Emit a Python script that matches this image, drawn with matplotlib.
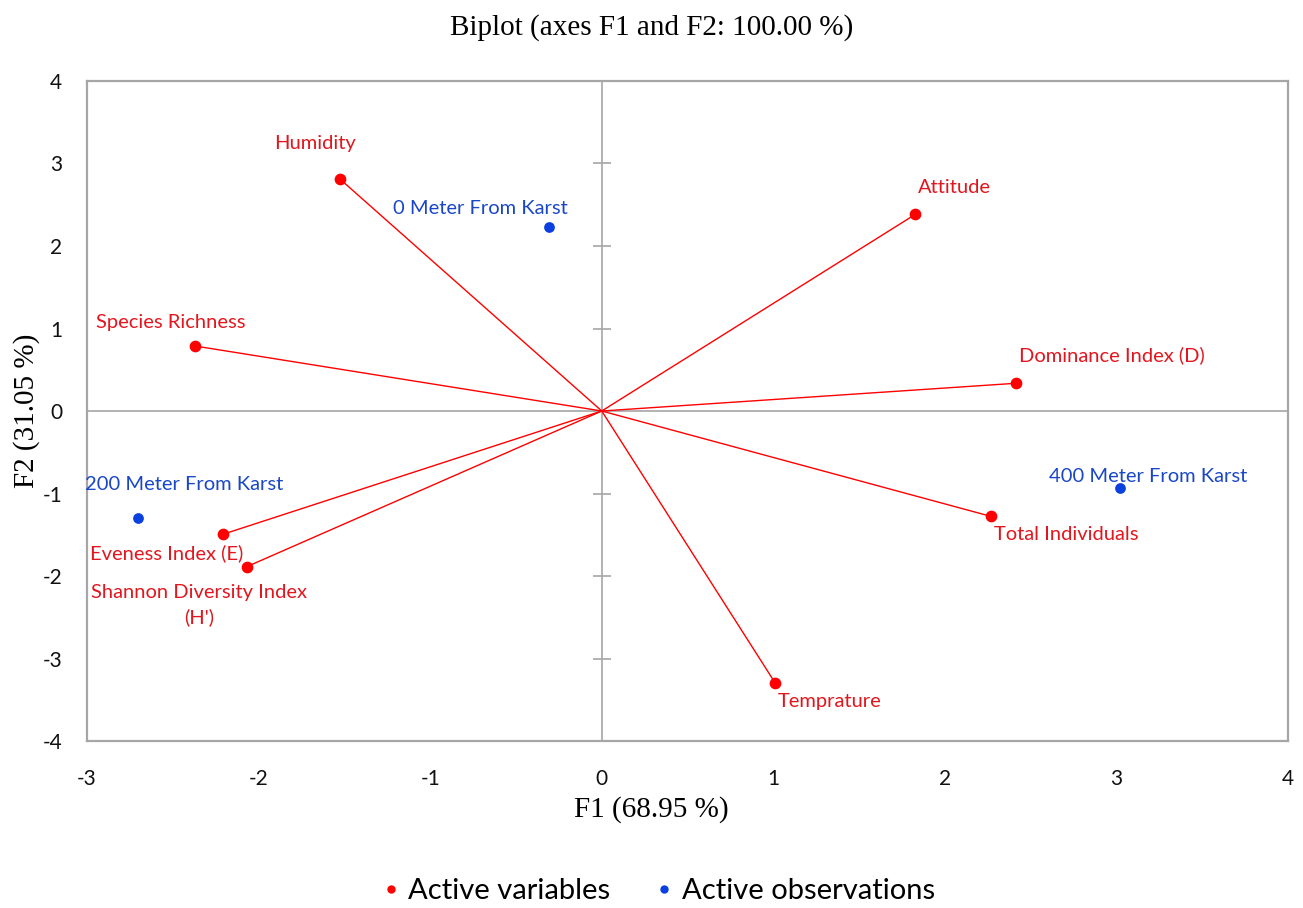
import matplotlib
matplotlib.use("Agg")
import matplotlib.pyplot as plt
from matplotlib.lines import Line2D

plt.rcParams["axes.unicode_minus"] = False

# ---- data ----
var_names = ["Humidity", "Attitude", "Species Richness", "Dominance Index (D)",
             "Eveness Index (E)", "Shannon Diversity Index\n(H')", "Total Individuals", "Temprature"]
var_f1 = [-1.525, 1.828, -2.371, 2.413, -2.209, -2.069, 2.268, 1.011]
var_f2 = [2.81, 2.384, 0.788, 0.336, -1.495, -1.887, -1.277, -3.297]
# label anchor positions (data units)
var_lab_x = [-1.67, 2.054, -2.515, 2.975, -2.538, -2.345, 2.707, 1.331]
var_lab_y = [3.24, 2.715, 1.07, 0.679, -1.725, -2.35, -1.495, -3.524]

obs_names = ["0 Meter From Karst", "200 Meter From Karst", "400 Meter From Karst"]
obs_f1 = [-0.308, -2.704, 3.019]
obs_f2 = [2.23, -1.293, -0.93]
obs_lab_x = [-0.708, -2.433, 3.185]
obs_lab_y = [2.46, -0.889, -0.788]

xticks = [-3, -2, -1, 0, 1, 2, 3, 4]
yticks = [-4, -3, -2, -1, 0, 1, 2, 3, 4]

title = "Biplot (axes F1 and F2: 100.00 %)"
xlabel = "F1 (68.95 %)"
ylabel = "F2 (31.05 %)"

RED = "#FF0000"
RED_TXT = "#E2161E"
BLUE = "#0A3FE0"
BLUE_TXT = "#1A47C8"
GRAY = "#A6A6A6"
SANS = ["Lato", "DejaVu Sans"]
SERIF = ["Liberation Serif", "DejaVu Serif"]

fig = plt.figure(figsize=(13.03, 9.08), dpi=100)
ax = fig.add_axes([0.0668, 0.1839, 0.9217, 0.7269])
ax.set_xlim(-3, 4)
ax.set_ylim(-4, 4)

for s in ax.spines.values():
    s.set_color(GRAY)
    s.set_linewidth(1.6)

ax.axhline(0, color=GRAY, lw=1.2, zorder=1)
ax.axvline(0, color=GRAY, lw=1.2, zorder=1)
# tick marks crossing the vertical zero axis
ax.plot([0] * len(yticks), yticks, linestyle="none", marker="_", markersize=13,
        markeredgewidth=1.2, color=GRAY, zorder=1, clip_on=False)

ax.set_xticks(xticks)
ax.set_yticks(yticks)
ax.tick_params(axis="both", length=0, labelsize=15, colors="#111111")
ax.tick_params(axis="x", pad=20)
ax.tick_params(axis="y", pad=18)
for lbl in ax.get_xticklabels() + ax.get_yticklabels():
    lbl.set_family(SANS)

# vectors
for x, y in zip(var_f1, var_f2):
    ax.plot([0, x], [0, y], color=RED, lw=1.0, zorder=2)
ax.scatter(var_f1, var_f2, s=55, color=RED, zorder=3, label="Active variables")
ax.scatter(obs_f1, obs_f2, s=45, color=BLUE, zorder=3, label="Active observations")

for n, x, y in zip(var_names, var_lab_x, var_lab_y):
    ax.text(x, y, n, color=RED_TXT, fontsize=14.5, family=SANS, ha="center", va="center",
            linespacing=1.5)
for n, x, y in zip(obs_names, obs_lab_x, obs_lab_y):
    ax.text(x, y, n, color=BLUE_TXT, fontsize=14.5, family=SANS, ha="center", va="center")

fig.text(0.5, 0.970, title, ha="center", va="center", fontsize=21, family=SERIF)
fig.text(0.5, 0.108, xlabel, ha="center", va="center", fontsize=21, family=SERIF)
fig.text(0.020, 0.548, ylabel, ha="center", va="center", fontsize=21, family=SERIF,
         rotation=90)

handles = [Line2D([], [], linestyle="none", marker="o", markersize=5, color=RED),
           Line2D([], [], linestyle="none", marker="o", markersize=5, color=BLUE)]
fig.legend(handles, ["Active variables", "Active observations"], loc="center",
           bbox_to_anchor=(0.503, 0.019), ncol=2, frameon=False,
           prop={"family": SANS, "size": 21}, handletextpad=0.1, columnspacing=1.35,
           handlelength=1.0)

fig.savefig("out.png", dpi=100)
